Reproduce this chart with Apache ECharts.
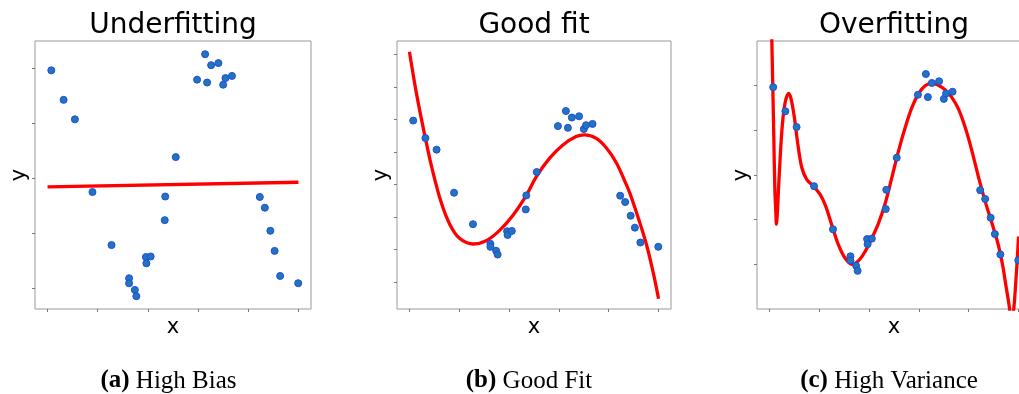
<!DOCTYPE html>
<html><head><meta charset="utf-8">
<script src="https://cdn.jsdelivr.net/npm/echarts@6/dist/echarts.min.js"></script>
<style>html,body{margin:0;padding:0;background:#fff}#c{width:1019px;height:394px}</style>
</head><body><div id="c"></div>
<script>
// ---------------- data ----------------
const panelTitles = ['Underfitting', 'Good fit', 'Overfitting'];
const captionTags = ['(a)', '(b)', '(c)'];
const captionTexts = ['High Bias', 'Good Fit', 'High Variance'];

const xTicks  = [0, 0.2, 0.4, 0.6, 0.8, 1.0];
const yTicksA = [-1, -0.5, 0, 0.5, 1];
const yTicksB = [-1.5, -1, -0.5, 0, 0.5, 1, 1.5, 2];
const yTicksC = [-1, -0.5, 0, 0.5, 1];

// noisy samples (same in all three panels)
const sampleX = [0.015, 0.064, 0.109, 0.179, 0.255, 0.325, 0.325, 0.348, 0.354, 0.392, 0.394, 0.411, 0.467, 0.469, 0.511,
                 0.596, 0.628, 0.636, 0.652, 0.681, 0.700, 0.709, 0.735, 0.846, 0.866, 0.888, 0.905, 0.927, 0.999];
const sampleY = [0.983, 0.714, 0.537, -0.125, -0.608, -0.910, -0.956, -1.016, -1.073, -0.717, -0.774, -0.712, -0.381, -0.166, 0.193,
                 0.898, 1.130, 0.872, 1.030, 1.049, 0.852, 0.912, 0.932, -0.170, -0.268, -0.478, -0.661, -0.889, -0.955];

// (a) linear model
const underX = [0, 1];
const underY = [-0.078, -0.036];

// (b) good-fit model curve
const goodX = [0, 0.029, 0.064, 0.094, 0.127, 0.161, 0.201, 0.257, 0.308, 0.361, 0.415, 0.469, 0.509, 0.562, 0.616, 0.669, 0.703,
               0.750, 0.790, 0.830, 0.863, 0.884, 0.910, 0.937, 0.957, 0.980, 1.0];
const goodY = [2.041, 1.381, 0.711, 0.196, -0.268, -0.603, -0.825, -0.912, -0.861, -0.706, -0.474, -0.165, 0.119, 0.402, 0.608, 0.737, 0.763,
               0.711, 0.567, 0.340, 0.067, -0.124, -0.412, -0.732, -1.0, -1.376, -1.753];

// (c) overfitting model curve
const overX = [0.0, 0.0095, 0.0135, 0.0175, 0.0216, 0.026, 0.028, 0.032, 0.036, 0.043, 0.052, 0.063, 0.077, 0.087, 0.100, 0.114, 0.130,
               0.150, 0.177, 0.204, 0.226, 0.250, 0.277, 0.304, 0.331, 0.357, 0.384, 0.411, 0.438, 0.465, 0.491, 0.518, 0.545, 0.572,
               0.599, 0.625, 0.649, 0.676, 0.706, 0.732, 0.759, 0.786, 0.813, 0.840, 0.866, 0.893, 0.917, 0.936, 0.949, 0.960, 0.968,
               0.974, 0.981, 0.989, 0.995, 1.0];
const overY = [2.8, 1.507, 0.981, 0.418, -0.144, -0.445, -0.550, -0.407, -0.182, 0.193, 0.568, 0.812, 0.914, 0.850, 0.644, 0.343, 0.081,
               -0.051, -0.126, -0.220, -0.351, -0.557, -0.782, -0.932, -1.0, -0.962, -0.857, -0.707, -0.538, -0.313, -0.032, 0.268, 0.531, 0.756,
               0.914, 1.0, 1.026, 1.008, 0.951, 0.869, 0.737, 0.531, 0.268, -0.032, -0.295, -0.538, -0.764, -1.008, -1.233, -1.420, -1.570,
               -1.62, -1.495, -1.195, -0.932, -0.689];

// ---------------- chart ----------------
const zip = (xs, ys) => xs.map((x, i) => [x, ys[i]]);
const samples = zip(sampleX, sampleY);
const fits = [zip(underX, underY), zip(goodX, goodY), zip(overX, overY)];
const yTicks = [yTicksA, yTicksB, yTicksC];
const yRanges = [[-1.19, 1.25], [-1.91, 2.205], [-1.5, 1.5]];
const grids = [
  {left: 35, top: 41, width: 276, height: 268},
  {left: 397, top: 41, width: 274, height: 268},
  {left: 757, top: 41, width: 274, height: 268}
];
const titleCx = [173, 534, 894];
const captionCx = [168.5, 529, 889];

const SANS = 'DejaVu Sans';
const SERIF = 'Liberation Serif';
const tickStyle = {color: '#777', width: 1};

const option = {
  animation: false,
  backgroundColor: '#fff',
  grid: grids.map(g => Object.assign({show: true, borderColor: '#999', borderWidth: 1, backgroundColor: 'transparent',
                                      outerBoundsMode: 'none', containLabel: false}, g)),
  xAxis: grids.map((g, i) => ({
    type: 'value', gridIndex: i, min: -0.05, max: 1.05, position: 'bottom',
    axisLine: {show: false, onZero: false},
    axisTick: {show: true, inside: false, length: 3, lineStyle: tickStyle, customValues: xTicks},
    axisLabel: {show: false},
    splitLine: {show: false},
    name: 'x', nameLocation: 'middle', nameGap: 8,
    nameTextStyle: {fontFamily: SANS, fontSize: 21, color: '#000'}
  })),
  yAxis: grids.map((g, i) => ({
    type: 'value', gridIndex: i, min: yRanges[i][0], max: yRanges[i][1], position: 'left',
    axisLine: {show: false, onZero: false},
    axisTick: {show: true, inside: false, length: 3, lineStyle: tickStyle, customValues: yTicks[i]},
    axisLabel: {show: false},
    splitLine: {show: false},
    name: 'y', nameLocation: 'middle', nameGap: 5,
    nameTextStyle: {fontFamily: SANS, fontSize: 21, color: '#000'}
  })),
  series: [
    ...fits.map((d, i) => ({
      type: 'line', xAxisIndex: i, yAxisIndex: i, data: d,
      showSymbol: false, smooth: i === 0 ? false : 0.35, clip: true, z: 2,
      lineStyle: {color: '#ff0000', width: 3.3}
    })),
    ...grids.map((g, i) => ({
      type: 'scatter', xAxisIndex: i, yAxisIndex: i, data: samples, z: 3,
      symbolSize: 7, clip: true,
      itemStyle: {color: '#1f77b4', borderColor: '#2447f0', borderWidth: 1, opacity: 1}
    }))
  ],
  graphic: [
    ...panelTitles.map((t, i) => ({
      type: 'text', x: titleCx[i], y: 26, silent: true,
      style: {text: t, fontFamily: SANS, fontSize: 28, fill: '#000', align: 'center', verticalAlign: 'middle'}
    })),
    ...captionTexts.map((t, i) => ({
      type: 'text', x: captionCx[i], y: 381, silent: true,
      style: {
        text: '{b|' + captionTags[i] + '} {n|' + t + '}',
        fontFamily: SERIF, fontSize: 25, fill: '#000', align: 'center', verticalAlign: 'middle',
        rich: {
          b: {fontFamily: SERIF, fontSize: 25, fontWeight: 'bold', fill: '#000'},
          n: {fontFamily: SERIF, fontSize: 25, fill: '#000'}
        }
      }
    }))
  ]
};
const chart = echarts.init(document.getElementById('c'), null, {renderer: 'canvas'});
chart.setOption(option);
</script>
</body></html>
